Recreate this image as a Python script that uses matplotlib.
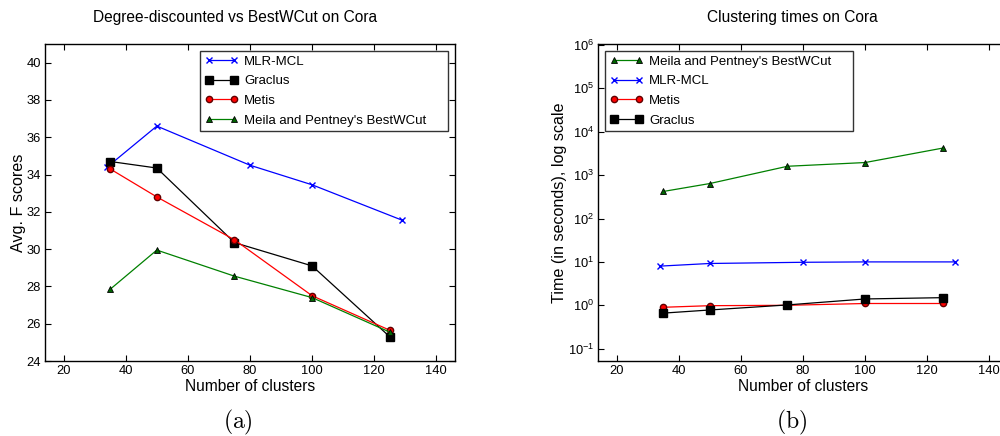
import matplotlib
matplotlib.use("Agg")
import matplotlib.pyplot as plt

plt.rcParams['font.family'] = ['Liberation Sans', 'DejaVu Sans']
plt.rcParams['mathtext.fontset'] = 'cm'

# Panel (a): Avg. F scores
mlr_x = [34, 50, 80, 100, 129]
mlr_f = [34.4, 36.6, 34.5, 33.45, 31.55]
other_x = [35, 50, 75, 100, 125]
graclus_f = [34.7, 34.35, 30.35, 29.1, 25.3]
metis_f = [34.3, 32.8, 30.5, 27.5, 25.65]
bestwcut_f = [27.85, 29.95, 28.55, 27.4, 25.55]

# Panel (b): times in seconds
bestwcut_t = [420, 640, 1600, 1950, 4200]
mlr_t = [8.0, 9.2, 9.8, 10.0, 10.0]
metis_t = [0.9, 0.98, 1.0, 1.1, 1.1]
graclus_t = [0.66, 0.78, 1.02, 1.4, 1.5]

xticks = [20, 40, 60, 80, 100, 120, 140]

fig = plt.figure(figsize=(10, 4.36), dpi=100)
axa = fig.add_axes([0.045, 0.172, 0.41, 0.727])
axb = fig.add_axes([0.598, 0.172, 0.41, 0.727])

ms = 4.5
lw = 0.9
legkw = dict(fontsize=9.5, fancybox=False, framealpha=1, edgecolor='#333333',
             loc='upper left', mode='expand', borderaxespad=0, numpoints=2,
             handlelength=2.5, handletextpad=0.5, labelspacing=0.56, borderpad=0.35)

axa.plot(mlr_x, mlr_f, color='blue', marker='x', ms=ms, lw=lw, mew=1.0, label='MLR-MCL')
axa.plot(other_x, graclus_f, color='black', marker='s', ms=ms+1, lw=lw, mec='black', label='Graclus')
axa.plot(other_x, metis_f, color='red', marker='o', ms=ms, lw=lw, mec='#600000', label='Metis')
axa.plot(other_x, bestwcut_f, color='green', marker='^', ms=ms, lw=lw, mfc='darkgreen', mec='black', mew=0.6,
         label="Meila and Pentney's BestWCut")
axa.set_xlim(14, 146)
axa.set_ylim(24, 41)
axa.set_yticks([24, 26, 28, 30, 32, 34, 36, 38, 40])
axa.set_xticks(xticks)
axa.set_xlabel('Number of clusters', fontsize=11.2, labelpad=1)
axa.set_ylabel('Avg. F scores', fontsize=11.6, labelpad=0.5)
leg = axa.legend(bbox_to_anchor=(0.378, 0.7256, 0.605, 0.2524), **legkw)
leg.get_frame().set_linewidth(1.0)

axb.plot(other_x, bestwcut_t, color='green', marker='^', ms=ms, lw=lw, mfc='darkgreen', mec='black', mew=0.6,
         label="Meila and Pentney's BestWCut")
axb.plot(mlr_x, mlr_t, color='blue', marker='x', ms=ms, lw=lw, mew=1.0, label='MLR-MCL')
axb.plot(other_x, metis_t, color='red', marker='o', ms=ms, lw=lw, mec='#600000', label='Metis')
axb.plot(other_x, graclus_t, color='black', marker='s', ms=ms+1, lw=lw, mec='black', label='Graclus')
axb.set_yscale('log')
axb.set_xlim(14, 146)
axb.set_ylim(0.052, 1.05e6)
axb.set_yticks([1e-1, 1, 1e1, 1e2, 1e3, 1e4, 1e5, 1e6])
axb.yaxis.set_minor_locator(matplotlib.ticker.NullLocator())
axb.set_xticks(xticks)
axb.set_xlabel('Number of clusters', fontsize=11.2, labelpad=1)
axb.set_ylabel('Time (in seconds), log scale', fontsize=11.6, labelpad=0.5)
leg = axb.legend(bbox_to_anchor=(0.017, 0.7256, 0.605, 0.2524), **legkw)
leg.get_frame().set_linewidth(1.0)

for ax in (axa, axb):
    ax.tick_params(direction='in', top=True, right=True, length=4, width=0.8, labelsize=9.3, pad=3)
    for s in ax.spines.values():
        s.set_linewidth(1.0)

fig.text(0.235, 0.96, 'Degree-discounted vs BestWCut on Cora', ha='center', va='center', fontsize=11.2)
fig.text(0.792, 0.96, 'Clustering times on Cora', ha='center', va='center', fontsize=11.2)
fig.text(0.238, 0.032, r'$\mathrm{(a)}$', ha='center', va='center', fontsize=17)
fig.text(0.792, 0.032, r'$\mathrm{(b)}$', ha='center', va='center', fontsize=17)

fig.savefig('out.png', dpi=100)
